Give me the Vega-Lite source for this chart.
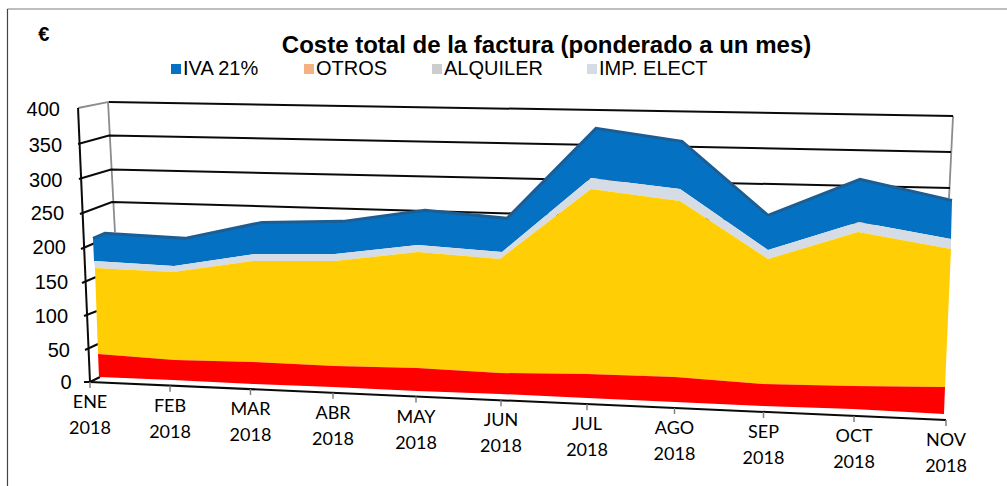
{
"$schema":"https://vega.github.io/schema/vega-lite/v6.json",
"width":1007,"height":486,"padding":0,
"autosize":{"type":"none"},
"background":"white",
"view":{"stroke":null},
"title":{"text":"Coste total de la factura (ponderado a un mes)","font":"Liberation Sans","fontSize":24,"fontWeight":"bold","color":"#000000","anchor":"middle","frame":"group","dx":43,"offset":-58},
"datasets":{
"marco":[
{"linea":"sup","orden":1,"pos":-0.965,"valor":544.5},{"linea":"sup","orden":2,"pos":10.725,"valor":544.5}],
"marcoIzq":[
{"linea":"izq","orden":1,"pos":-0.965,"valor":544.5},{"linea":"izq","orden":2,"pos":-0.965,"valor":-151.8}],
"paredes":[
{"linea":"pared izq","orden":1,"pos":0.211,"valor":408.8},{"linea":"pared izq","orden":2,"pos":0.292,"valor":219},
{"linea":"pared der","orden":1,"pos":10.094,"valor":388.3},{"linea":"pared der","orden":2,"pos":10.047,"valor":268.6},
{"linea":"400 lado","orden":1,"pos":-0.14,"valor":400},{"linea":"400 lado","orden":2,"pos":0.222,"valor":408.8}],
"rejilla":[
{"linea":"400","orden":1,"pos":0.222,"valor":408.8},{"linea":"400","orden":2,"pos":10.094,"valor":388.3},
{"linea":"350","orden":1,"pos":-0.14,"valor":347.5},{"linea":"350","orden":2,"pos":0.222,"valor":359.9},{"linea":"350","orden":3,"pos":10.07,"valor":335.8},
{"linea":"300","orden":1,"pos":-0.13,"valor":296.3},{"linea":"300","orden":2,"pos":0.246,"valor":310.2},{"linea":"300","orden":3,"pos":10.058,"valor":283.2},
{"linea":"250","orden":1,"pos":-0.118,"valor":245.2},{"linea":"250","orden":2,"pos":0.257,"valor":262.8},{"linea":"250","orden":3,"pos":10.035,"valor":227.7},
{"linea":"200","orden":1,"pos":-0.106,"valor":194.1},{"linea":"200","orden":2,"pos":0.058,"valor":202.9},
{"linea":"150","orden":1,"pos":-0.094,"valor":144.5},{"linea":"150","orden":2,"pos":0.07,"valor":153.3},
{"linea":"100","orden":1,"pos":-0.07,"valor":96.3},{"linea":"100","orden":2,"pos":0.082,"valor":103.7},
{"linea":"50","orden":1,"pos":-0.058,"valor":46.7},{"linea":"50","orden":2,"pos":0.094,"valor":55.5},
{"linea":"0","orden":1,"pos":-0.07,"valor":0},{"linea":"0","orden":2,"pos":0,"valor":0},{"linea":"0","orden":3,"pos":0.117,"valor":7.3},
{"linea":"eje y","orden":1,"pos":-0.14,"valor":400},{"linea":"eje y","orden":2,"pos":0,"valor":0},
{"linea":"eje x","orden":1,"pos":0,"valor":0},{"linea":"eje x","orden":2,"pos":10.012,"valor":-55.5}],
"bandas":[
{"serie":"IVA 21%","mes":"ENE","orden":1,"pos":0.035,"valor":209.7},
{"serie":"IVA 21%","mes":"ENE","orden":2,"pos":0.175,"valor":217},
{"serie":"IVA 21%","mes":"FEB","orden":3,"pos":1.111,"valor":209.7},
{"serie":"IVA 21%","mes":"MAR","orden":4,"pos":2.012,"valor":233},
{"serie":"IVA 21%","mes":"ABR","orden":5,"pos":2.959,"valor":234.5},
{"serie":"IVA 21%","mes":"MAY","orden":6,"pos":3.918,"valor":250.6},
{"serie":"IVA 21%","mes":"JUN","orden":7,"pos":4.877,"valor":238.9},
{"serie":"IVA 21%","mes":"JUL","orden":8,"pos":5.918,"valor":370.3},
{"serie":"IVA 21%","mes":"AGO","orden":9,"pos":6.924,"valor":351.3},
{"serie":"IVA 21%","mes":"SEP","orden":10,"pos":7.93,"valor":243.3},
{"serie":"IVA 21%","mes":"OCT","orden":11,"pos":9.006,"valor":295.8},
{"serie":"IVA 21%","mes":"NOV","orden":12,"pos":10.082,"valor":265.2},
{"serie":"IVA 21%","mes":"NOV","orden":13,"pos":10.07,"valor":208.8},
{"serie":"IVA 21%","mes":"OCT","orden":14,"pos":8.994,"valor":233.6},
{"serie":"IVA 21%","mes":"SEP","orden":15,"pos":7.93,"valor":192.7},
{"serie":"IVA 21%","mes":"AGO","orden":16,"pos":6.901,"valor":281.8},
{"serie":"IVA 21%","mes":"JUL","orden":17,"pos":5.86,"valor":297.8},
{"serie":"IVA 21%","mes":"JUN","orden":18,"pos":4.819,"valor":189.8},
{"serie":"IVA 21%","mes":"MAY","orden":19,"pos":3.836,"valor":200},
{"serie":"IVA 21%","mes":"ABR","orden":20,"pos":2.865,"valor":186.9},
{"serie":"IVA 21%","mes":"MAR","orden":21,"pos":1.93,"valor":186.9},
{"serie":"IVA 21%","mes":"FEB","orden":22,"pos":0.982,"valor":169.3},
{"serie":"IVA 21%","mes":"ENE","orden":23,"pos":0.047,"valor":176.6},
{"serie":"IMP. ELECT","mes":"ENE","orden":1,"pos":0.047,"valor":176.6},
{"serie":"IMP. ELECT","mes":"FEB","orden":2,"pos":0.982,"valor":169.3},
{"serie":"IMP. ELECT","mes":"MAR","orden":3,"pos":1.93,"valor":186.9},
{"serie":"IMP. ELECT","mes":"ABR","orden":4,"pos":2.865,"valor":186.9},
{"serie":"IMP. ELECT","mes":"MAY","orden":5,"pos":3.836,"valor":200},
{"serie":"IMP. ELECT","mes":"JUN","orden":6,"pos":4.819,"valor":189.8},
{"serie":"IMP. ELECT","mes":"JUL","orden":7,"pos":5.86,"valor":297.8},
{"serie":"IMP. ELECT","mes":"AGO","orden":8,"pos":6.901,"valor":281.8},
{"serie":"IMP. ELECT","mes":"SEP","orden":9,"pos":7.93,"valor":192.7},
{"serie":"IMP. ELECT","mes":"OCT","orden":10,"pos":8.994,"valor":233.6},
{"serie":"IMP. ELECT","mes":"NOV","orden":11,"pos":10.07,"valor":208.8},
{"serie":"IMP. ELECT","mes":"NOV","orden":12,"pos":10.07,"valor":194.2},
{"serie":"IMP. ELECT","mes":"OCT","orden":13,"pos":8.983,"valor":219},
{"serie":"IMP. ELECT","mes":"SEP","orden":14,"pos":7.93,"valor":179.6},
{"serie":"IMP. ELECT","mes":"AGO","orden":15,"pos":6.901,"valor":264.2},
{"serie":"IMP. ELECT","mes":"JUL","orden":16,"pos":5.86,"valor":281.8},
{"serie":"IMP. ELECT","mes":"JUN","orden":17,"pos":4.795,"valor":179.6},
{"serie":"IMP. ELECT","mes":"MAY","orden":18,"pos":3.836,"valor":189.8},
{"serie":"IMP. ELECT","mes":"ABR","orden":19,"pos":2.865,"valor":176.6},
{"serie":"IMP. ELECT","mes":"MAR","orden":20,"pos":1.906,"valor":176.6},
{"serie":"IMP. ELECT","mes":"FEB","orden":21,"pos":0.971,"valor":160.6},
{"serie":"IMP. ELECT","mes":"ENE","orden":22,"pos":0.058,"valor":166.4},
{"serie":"ENERGIA","mes":"ENE","orden":1,"pos":0.058,"valor":166.4},
{"serie":"ENERGIA","mes":"FEB","orden":2,"pos":0.971,"valor":160.6},
{"serie":"ENERGIA","mes":"MAR","orden":3,"pos":1.906,"valor":176.6},
{"serie":"ENERGIA","mes":"ABR","orden":4,"pos":2.865,"valor":176.6},
{"serie":"ENERGIA","mes":"MAY","orden":5,"pos":3.836,"valor":189.8},
{"serie":"ENERGIA","mes":"JUN","orden":6,"pos":4.795,"valor":179.6},
{"serie":"ENERGIA","mes":"JUL","orden":7,"pos":5.86,"valor":281.8},
{"serie":"ENERGIA","mes":"AGO","orden":8,"pos":6.901,"valor":264.2},
{"serie":"ENERGIA","mes":"SEP","orden":9,"pos":7.93,"valor":179.6},
{"serie":"ENERGIA","mes":"OCT","orden":10,"pos":8.983,"valor":219},
{"serie":"ENERGIA","mes":"NOV","orden":11,"pos":10.07,"valor":194.2},
{"serie":"ENERGIA","mes":"NOV","orden":12,"pos":10,"valor":-7.3},
{"serie":"ENERGIA","mes":"OCT","orden":13,"pos":8.924,"valor":-5.8},
{"serie":"ENERGIA","mes":"SEP","orden":14,"pos":7.871,"valor":-2.9},
{"serie":"ENERGIA","mes":"AGO","orden":15,"pos":6.842,"valor":7.3},
{"serie":"ENERGIA","mes":"JUL","orden":16,"pos":5.813,"valor":11.7},
{"serie":"ENERGIA","mes":"JUN","orden":17,"pos":4.795,"valor":13.1},
{"serie":"ENERGIA","mes":"MAY","orden":18,"pos":3.825,"valor":20.4},
{"serie":"ENERGIA","mes":"ABR","orden":19,"pos":2.865,"valor":23.4},
{"serie":"ENERGIA","mes":"MAR","orden":20,"pos":1.906,"valor":29.2},
{"serie":"ENERGIA","mes":"FEB","orden":21,"pos":0.994,"valor":32.1},
{"serie":"ENERGIA","mes":"ENE","orden":22,"pos":0.094,"valor":40.9},
{"serie":"POTENCIA","mes":"ENE","orden":1,"pos":0.094,"valor":40.9},
{"serie":"POTENCIA","mes":"FEB","orden":2,"pos":0.994,"valor":32.1},
{"serie":"POTENCIA","mes":"MAR","orden":3,"pos":1.906,"valor":29.2},
{"serie":"POTENCIA","mes":"ABR","orden":4,"pos":2.865,"valor":23.4},
{"serie":"POTENCIA","mes":"MAY","orden":5,"pos":3.825,"valor":20.4},
{"serie":"POTENCIA","mes":"JUN","orden":6,"pos":4.795,"valor":13.1},
{"serie":"POTENCIA","mes":"JUL","orden":7,"pos":5.813,"valor":11.7},
{"serie":"POTENCIA","mes":"AGO","orden":8,"pos":6.842,"valor":7.3},
{"serie":"POTENCIA","mes":"SEP","orden":9,"pos":7.871,"valor":-2.9},
{"serie":"POTENCIA","mes":"OCT","orden":10,"pos":8.924,"valor":-5.8},
{"serie":"POTENCIA","mes":"NOV","orden":11,"pos":10,"valor":-7.3},
{"serie":"POTENCIA","mes":"NOV","orden":12,"pos":9.988,"valor":-46.7},
{"serie":"POTENCIA","mes":"OCT","orden":13,"pos":8.924,"valor":-39.4},
{"serie":"POTENCIA","mes":"SEP","orden":14,"pos":7.871,"valor":-35},
{"serie":"POTENCIA","mes":"AGO","orden":15,"pos":6.842,"valor":-29.2},
{"serie":"POTENCIA","mes":"JUL","orden":16,"pos":5.813,"valor":-23.4},
{"serie":"POTENCIA","mes":"JUN","orden":17,"pos":4.795,"valor":-17.5},
{"serie":"POTENCIA","mes":"MAY","orden":18,"pos":3.825,"valor":-13.1},
{"serie":"POTENCIA","mes":"ABR","orden":19,"pos":2.842,"valor":-7.3},
{"serie":"POTENCIA","mes":"MAR","orden":20,"pos":1.906,"valor":-2.9},
{"serie":"POTENCIA","mes":"FEB","orden":21,"pos":0.971,"valor":2.9},
{"serie":"POTENCIA","mes":"ENE","orden":22,"pos":0.105,"valor":7.3}],
"meses":[
{"mes":"ENE\n2018","pos":0,"eje":0,"marca":-8.8,"etiqueta":-17.5},
{"mes":"FEB\n2018","pos":0.936,"eje":-5.3,"marca":-14.1,"etiqueta":-22.8},
{"mes":"MAR\n2018","pos":1.877,"eje":-10.3,"marca":-19.1,"etiqueta":-27.8},
{"mes":"ABR\n2018","pos":2.842,"eje":-15.7,"marca":-24.5,"etiqueta":-33.2},
{"mes":"MAY\n2018","pos":3.813,"eje":-21.2,"marca":-30,"etiqueta":-38.7},
{"mes":"JUN\n2018","pos":4.807,"eje":-26.6,"marca":-35.4,"etiqueta":-44.1},
{"mes":"JUL\n2018","pos":5.813,"eje":-32.3,"marca":-41.1,"etiqueta":-49.8},
{"mes":"AGO\n2018","pos":6.836,"eje":-38,"marca":-46.8,"etiqueta":-55.5},
{"mes":"SEP\n2018","pos":7.877,"eje":-43.8,"marca":-52.6,"etiqueta":-61.3},
{"mes":"OCT\n2018","pos":8.936,"eje":-49.5,"marca":-58.3,"etiqueta":-67},
{"mes":"NOV\n2018","pos":10.012,"eje":-55.5,"marca":-64.3,"etiqueta":-73}],
"escalaY":[
{"texto":"400","pos":-0.351,"valor":397},
{"texto":"350","pos":-0.327,"valor":344.5},
{"texto":"300","pos":-0.322,"valor":293.4},
{"texto":"250","pos":-0.304,"valor":245.3},
{"texto":"200","pos":-0.281,"valor":195.6},
{"texto":"150","pos":-0.257,"valor":144.5},
{"texto":"100","pos":-0.257,"valor":94.9},
{"texto":"50","pos":-0.234,"valor":45.3},
{"texto":"0","pos":-0.214,"valor":-1.5}],
"unidad":[{"texto":"€","pos":-0.54,"valor":506}]
},
"encoding":{
"x":{"field":"pos","type":"quantitative","scale":{"domain":[-1.05263,10.72515],"nice":false,"zero":false},"axis":null},
"y":{"field":"valor","type":"quantitative","scale":{"domain":[-151.82,557.66],"nice":false,"zero":false},"axis":null}
},
"layer":[
{"data":{"name":"marco"},"mark":{"type":"line","stroke":"#7f7f7f","strokeWidth":1.2},"encoding":{"order":{"field":"orden","type":"quantitative"}}},
{"data":{"name":"marcoIzq"},"mark":{"type":"line","stroke":"#444444","strokeWidth":1.2},"encoding":{"order":{"field":"orden","type":"quantitative"}}},
{"data":{"name":"paredes"},"mark":{"type":"line","stroke":"#8c8c8c","strokeWidth":1.8},"encoding":{"detail":{"field":"linea"},"order":{"field":"orden","type":"quantitative"}}},
{"data":{"name":"rejilla"},"mark":{"type":"line","stroke":"#0a0a0a","strokeWidth":2},"encoding":{"detail":{"field":"linea"},"order":{"field":"orden","type":"quantitative"}}},
{"data":{"name":"meses"},"mark":{"type":"rule","stroke":"#808080","strokeWidth":1.5},"encoding":{"y":{"field":"eje","type":"quantitative"},"y2":{"field":"marca"}}},
{"data":{"name":"bandas"},"mark":{"type":"line","interpolate":"linear-closed","stroke":null,"strokeWidth":0},
"encoding":{
"fill":{"field":"serie","type":"nominal","scale":{"domain":["IVA 21%","OTROS","ALQUILER","IMP. ELECT","ENERGIA","POTENCIA"],"range":["#0571C3","#F4B183","#CDCDCD","#D6DCE5","#FFCE04","#FF0000"]},
"legend":{"values":["IVA 21%","OTROS","ALQUILER","IMP. ELECT"],"title":null,"orient":"none","legendX":166,"legendY":59,"direction":"horizontal","columns":4,"gridAlign":"none","columnPadding":39,"symbolType":"square","symbolSize":100,"symbolStrokeWidth":0,"labelFont":"Liberation Sans","labelFontSize":20,"labelColor":"#000000","labelOffset":-3}},
"order":{"field":"orden","type":"quantitative"}}},
{"data":{"name":"bandas"},"transform":[{"filter":"datum.serie==='IVA 21%' && datum.orden<=12"}],"mark":{"type":"line","stroke":"#1C5D94","strokeWidth":3},"encoding":{"order":{"field":"orden","type":"quantitative"}}},
{"data":{"name":"meses"},"mark":{"type":"text","font":"Lato","fontSize":18,"color":"#000000","align":"center","baseline":"top","lineBreak":"\n","lineHeight":26},"encoding":{"y":{"field":"etiqueta","type":"quantitative"},"text":{"field":"mes"}}},
{"data":{"name":"escalaY"},"mark":{"type":"text","font":"Liberation Sans","fontSize":20,"color":"#000000","align":"right","baseline":"middle"},"encoding":{"text":{"field":"texto"}}},
{"data":{"name":"unidad"},"mark":{"type":"text","font":"Liberation Sans","fontSize":20,"fontWeight":"bold","color":"#000000","align":"center","baseline":"middle"},"encoding":{"text":{"field":"texto"}}}
]
}
